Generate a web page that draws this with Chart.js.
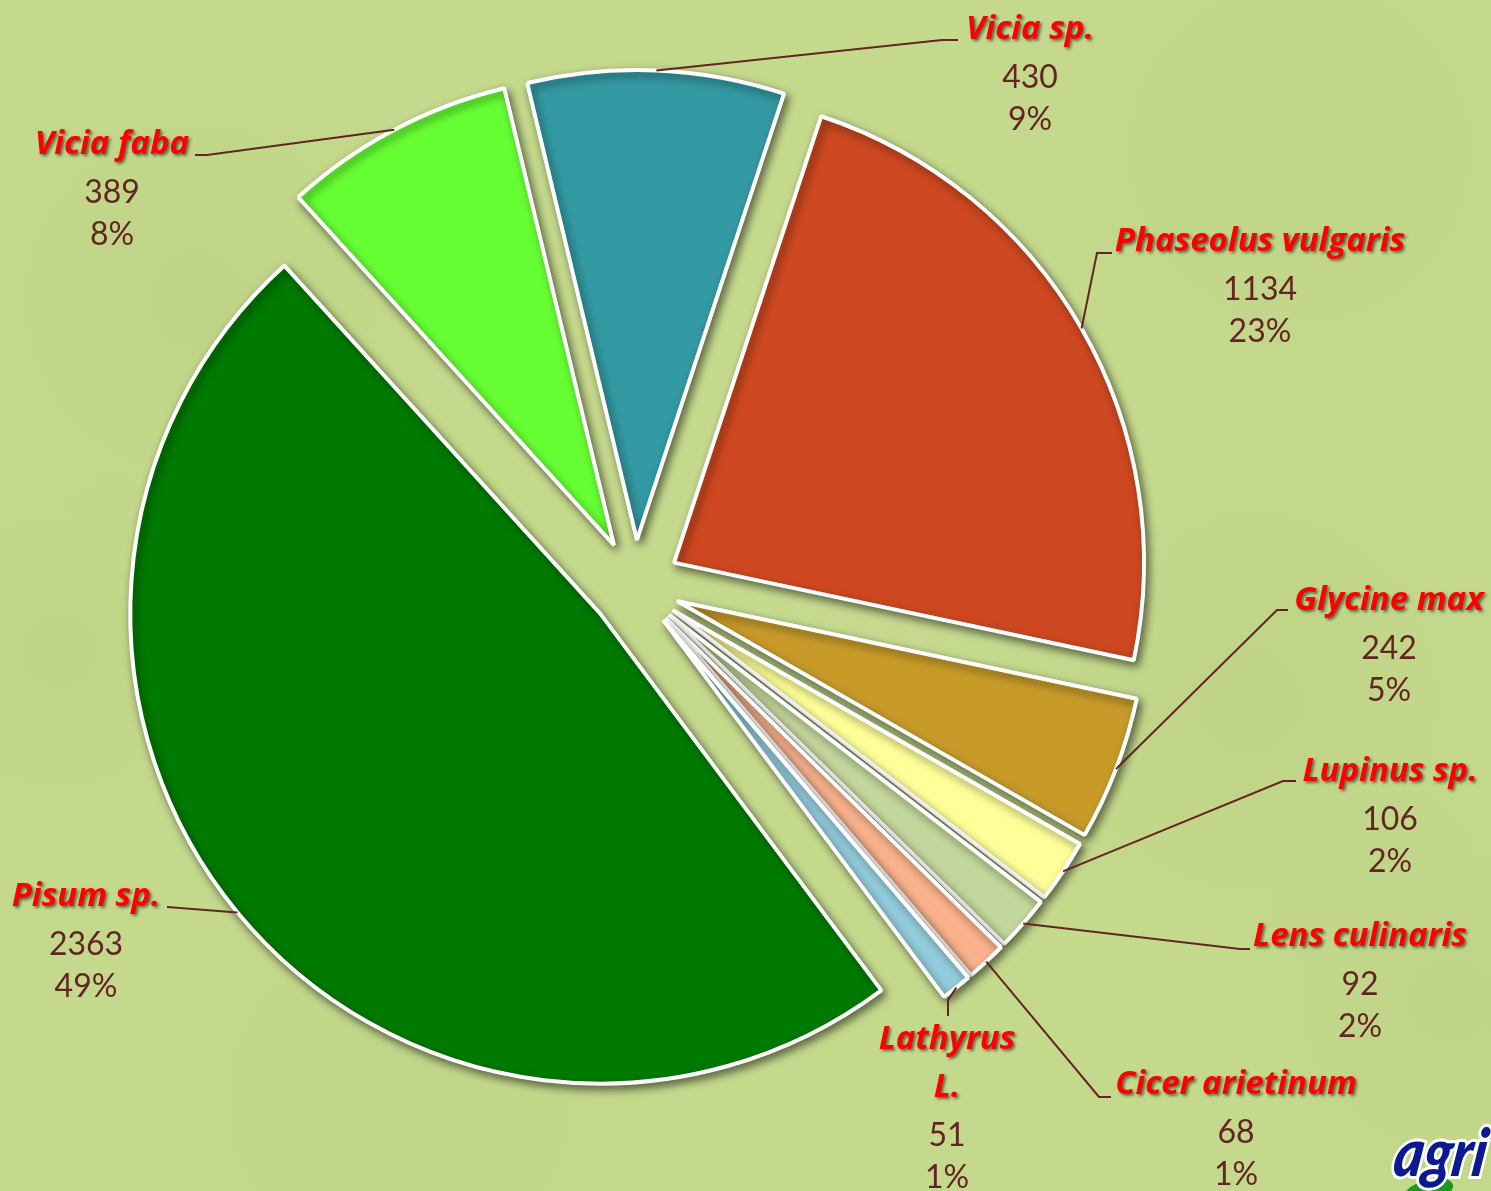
<!DOCTYPE html>
<html><head><meta charset="utf-8">
<script src="https://cdn.jsdelivr.net/npm/chart.js@4.4.0/dist/chart.umd.min.js"></script>
<style>html,body{margin:0;padding:0;background:#c5d98e;} #wrap{width:1491px;height:1191px;position:relative;overflow:hidden;}</style>
</head><body><div id="wrap"><canvas id="c"></canvas></div>
<script>
// ---- data ----
const categories = ['Vicia sp.', 'Phaseolus vulgaris', 'Glycine max', 'Lupinus sp.', 'Lens culinaris', 'Cicer arietinum', 'Lathyrus L.', 'Pisum sp.', 'Vicia faba'];
const values = [430, 1134, 242, 106, 92, 68, 51, 2363, 389];
const percentLabels = ['9%', '23%', '5%', '2%', '2%', '1%', '1%', '49%', '8%'];
const sliceColors = ['#339aa3', '#cd4820', '#c89b29', '#ffff99', '#c3d69b', '#f9b28c', '#93cddd', '#007a00', '#66ff33'];

// ---- label placement (text anchors & leader elbows) ----
const labelLayout = [
  {x: 1030, y: 30,   wrap: false, path: [[942, 40], [958, 40]]},
  {x: 1260, y: 242,  wrap: false, path: [[1097, 253], [1112, 253]]},
  {x: 1389, y: 601,  wrap: false, path: [[1277, 610], [1288, 610]]},
  {x: 1390, y: 772,  wrap: false, path: [[1283, 781], [1296, 781]]},
  {x: 1360, y: 937,  wrap: false, path: [[1240, 949], [1250, 949]]},
  {x: 1236, y: 1085, wrap: false, path: [[1099, 1097], [1111, 1097]]},
  {x: 947,  y: 1040, wrap: true,  path: [[948, 1000], [948, 1016]]},
  {x: 86,   y: 897,  wrap: false, path: [[167, 907]]},
  {x: 112,  y: 145,  wrap: false, path: [[207, 155], [195, 155]]}
];

const EXPLODE = 45; // px each slice is pulled out from the centre

const bgPlugin = {
  id: 'bg',
  beforeDraw(chart) {
    const c = chart.ctx, W = chart.width, H = chart.height;
    c.save();
    c.fillStyle = '#c5d98d';
    c.fillRect(0, 0, W, H);
    const blobs = [[200, 300, 260, 0.05], [1300, 150, 300, 0.04], [1250, 700, 280, 0.05], [400, 1100, 300, 0.04], [900, 500, 350, -0.04], [60, 650, 200, 0.05], [1450, 1000, 220, 0.05]];
    blobs.forEach(b => {
      const g = c.createRadialGradient(b[0], b[1], 0, b[0], b[1], b[2]);
      const col = b[3] > 0 ? '90,110,40' : '235,245,200';
      g.addColorStop(0, 'rgba(' + col + ',' + Math.abs(b[3]) + ')');
      g.addColorStop(1, 'rgba(' + col + ',0)');
      c.fillStyle = g;
      c.fillRect(0, 0, W, H);
    });
    c.restore();
  }
};

// draws each library arc element pulled out by a uniform distance, with a soft shadow
const explodePlugin = {
  id: 'explode',
  beforeDatasetDraw(chart, args) {
    const c = chart.ctx;
    c.save();
    c.shadowColor = 'rgba(0,0,0,0.5)';
    c.shadowBlur = 8;
    c.shadowOffsetX = 3;
    c.shadowOffsetY = 4;
    args.meta.data.forEach(arc => {
      const p = arc.getProps(['startAngle', 'endAngle'], true);
      const h = (p.startAngle + p.endAngle) / 2;
      c.save();
      c.translate(Math.cos(h) * EXPLODE, Math.sin(h) * EXPLODE);
      arc.draw(c);
      c.restore();
    });
    c.restore();
    return false;
  }
};

const labelPlugin = {
  id: 'sliceLabels',
  afterDatasetsDraw(chart) {
    const c = chart.ctx;
    const meta = chart.getDatasetMeta(0);
    meta.data.forEach((arc, i) => {
      const p = arc.getProps(['x', 'y', 'startAngle', 'endAngle', 'outerRadius'], true);
      const h = (p.startAngle + p.endAngle) / 2;
      const r = EXPLODE + p.outerRadius;
      const sx = p.x + Math.cos(h) * r, sy = p.y + Math.sin(h) * r;
      const L = labelLayout[i];
      c.save();
      c.strokeStyle = '#632523';
      c.lineWidth = 2;
      c.beginPath();
      c.moveTo(sx, sy);
      L.path.forEach(q => c.lineTo(q[0], q[1]));
      c.stroke();
      c.textAlign = 'center';
      c.textBaseline = 'middle';
      c.font = 'italic bold 33px "Open Sans"';
      c.shadowColor = 'rgba(0,0,0,0.5)';
      c.shadowBlur = 3;
      c.shadowOffsetX = 2;
      c.shadowOffsetY = 2;
      c.fillStyle = '#ff0000';
      const lines = L.wrap ? categories[i].split(' ') : [categories[i]];
      let y = L.y;
      lines.forEach(ln => { c.fillText(ln, L.x, y); y += 48; });
      c.shadowColor = 'transparent';
      c.font = '32px Lato';
      c.fillStyle = '#632523';
      c.fillText(String(values[i]), L.x, y);
      c.fillText(percentLabels[i], L.x, y + 42);
      c.restore();
    });
    // corner logo fragment
    c.save();
    c.fillStyle = '#1d9a1d';
    c.beginPath(); c.ellipse(1428, 1192, 26, 12, -0.3, 0, Math.PI * 2); c.fill();
    c.font = 'italic 900 66px Lato';
    c.textAlign = 'left'; c.textBaseline = 'alphabetic';
    c.setTransform(0.85, 0, -0.15, 1, 0, 0);
    c.lineWidth = 6; c.strokeStyle = '#ffffff';
    const lx = (1392 + 0.15 * 1174) / 0.85;
    c.strokeText('agri', lx, 1176);
    c.fillStyle = '#0b1a8e';
    c.fillText('agri', lx, 1176);
    c.restore();
  }
};

new Chart(document.getElementById('c'), {
  type: 'pie',
  data: {
    labels: categories,
    datasets: [{
      data: values,
      backgroundColor: sliceColors,
      borderColor: '#ffffff',
      borderWidth: 4,
      offset: 0,
      hoverOffset: 0
    }]
  },
  options: {
    responsive: true,
    maintainAspectRatio: false,
    animation: false,
    rotation: -13.5,
    radius: 470,
    layout: {padding: {left: 0, right: 221, top: 0, bottom: 21}},
    plugins: {legend: {display: false}, tooltip: {enabled: false}}
  },
  plugins: [bgPlugin, explodePlugin, labelPlugin]
});
</script>
</body></html>
